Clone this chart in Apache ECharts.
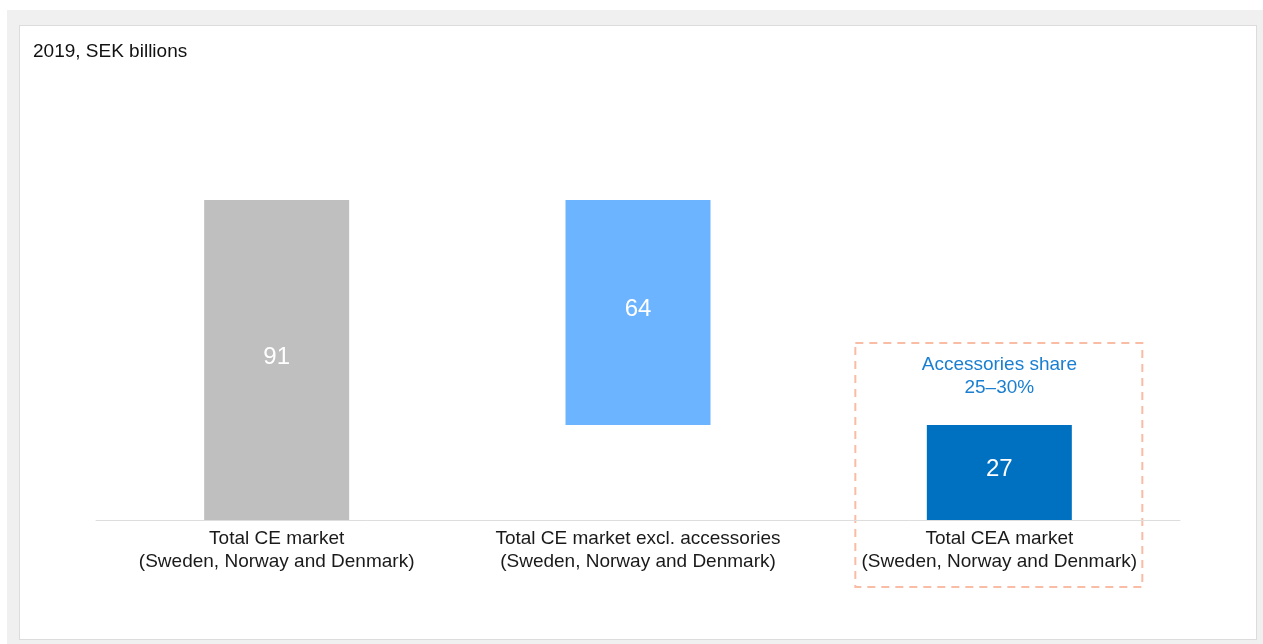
<!DOCTYPE html>
<html><head><meta charset="utf-8">
<script src="https://cdn.jsdelivr.net/npm/echarts@6/dist/echarts.min.js"></script>
<style>
html,body{margin:0;padding:0;background:#fff;}
#bg{position:absolute;left:7px;top:10px;width:1256px;height:634px;background:#f0f0f0;}
#wrap{position:absolute;left:19px;top:25px;width:1236px;height:613px;background:#fff;border:1px solid #dcdcdc;}
#c{position:absolute;left:0;top:0;width:1263px;height:644px;}
</style></head>
<body>
<div id="bg"></div>
<div id="wrap"></div>
<div id="c"></div>
<script>
const categories = ["Total CE market\n(Sweden, Norway and Denmark)", "Total CE market excl. accessories\n(Sweden, Norway and Denmark)", "Total CEA market\n(Sweden, Norway and Denmark)"];
const baseValues = [0, 27, 0];
const barValues = [91, 64, 27];
const barColors = ["#bfbfbf", "#6cb4ff", "#0070c0"];
const subtitle = "2019, SEK billions";
const noteText = "Accessories share\n25–30%";

const chart = echarts.init(document.getElementById('c'), null, {renderer:'canvas'});
const font = "'Liberation Sans', Arial, Helvetica, sans-serif";
chart.setOption({
  backgroundColor: 'transparent',
  animation: false,
  textStyle: {fontFamily: font},
  title: {text: subtitle, left: 28, top: 37, textStyle: {fontSize: 19, fontWeight: 'normal', color: '#111', fontFamily: font}},
  grid: {left: 96, right: 83, top: 200, bottom: 124},
  xAxis: {type: 'category', data: categories,
    axisLine: {lineStyle: {color: '#dddddd', width: 1}}, axisTick: {show: false},
    axisLabel: {interval: 0, fontSize: 19, color: '#1a1a1a', lineHeight: 23, margin: 7, fontFamily: font}},
  yAxis: {type: 'value', min: 0, max: 91, show: false, splitLine: {show: false}},
  series: [
    {type: 'bar', stack: 's', data: baseValues, itemStyle: {color: 'transparent'}, barWidth: 145, silent: true},
    {type: 'bar', stack: 's', data: barValues.map((v, i) => ({value: v, itemStyle: {color: barColors[i]}})),
      barWidth: 145,
      label: {show: true, position: 'inside', color: '#fff', fontSize: 24, fontFamily: font, offset: [0, -3]}}
  ]
});
const p1 = chart.convertToPixel({xAxisIndex: 0, yAxisIndex: 0}, [2, 27]);
const cx = p1[0];
chart.setOption({
  graphic: [
    {type: 'rect', shape: {x: cx - 144, y: 343, width: 287, height: 244},
     style: {fill: 'none', stroke: '#f9bca4', lineWidth: 2, lineDash: [8, 6]}},
    {type: 'text', x: cx, y: 353, style: {text: noteText, fill: '#1a7fd0', font: "19px " + font, textAlign: 'center', lineHeight: 23}}
  ]
});
</script>
</body></html>
